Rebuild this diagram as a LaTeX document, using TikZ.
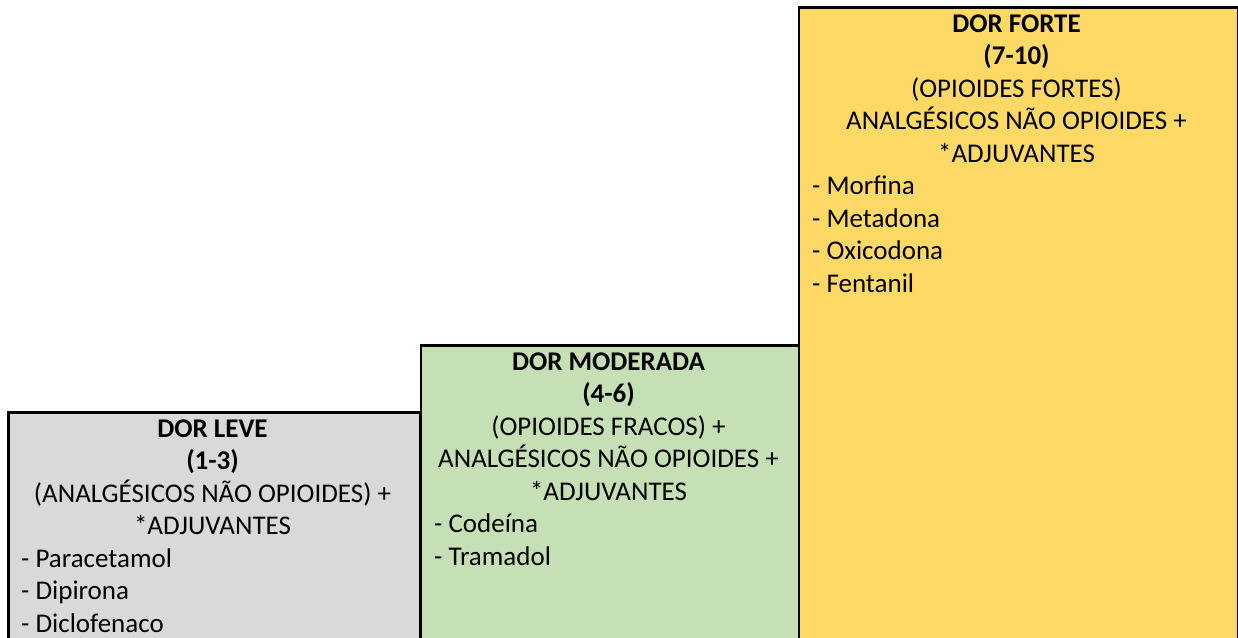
\documentclass[tikz,border=0pt]{standalone}
\usepackage{fontspec}
\setmainfont{Carlito}
\definecolor{levecol}{HTML}{D9D9D9}
\definecolor{modcol}{HTML}{C5E0B4}
\definecolor{fortecol}{HTML}{FFD966}
\begin{document}
\begin{tikzpicture}[x=1pt,y=-1pt,
  box/.style={draw=black, line width=2.5pt, rectangle, inner sep=0pt, anchor=north west},
  hd/.style={font=\fontsize{27}{32.5}\selectfont\bfseries, anchor=base, inner sep=0pt},
  tx/.style={font=\fontsize{27}{32.5}\selectfont, anchor=base, inner sep=0pt},
  li/.style={font=\fontsize{27}{32.5}\selectfont, anchor=base west, inner sep=0pt}]
\useasboundingbox (0,0) rectangle (1238,637);
\begin{scope}
\clip (0,0) rectangle (1238,637);
\node[box, fill=levecol, minimum width=411.5pt, minimum height=260pt] (leve) at (7,411) {};
\node[box, fill=modcol, minimum width=378.5pt, minimum height=330pt] (mod) at (419.5,344) {};
\node[box, fill=fortecol, minimum width=439pt, minimum height=660pt] (forte) at (797.5,6) {};
\end{scope}
% DOR LEVE
\node[hd] (l1) at (212.5,437.3) {DOR LEVE};
\node[hd] (l2) at (212.5,469.8) {(1-3)};
\node[tx] (l3) at (212.5,502.3) {(ANALGÉSICOS NÃO OPIOIDES) +};
\node[tx] (l4) at (212.5,534.8) {*ADJUVANTES};
\node[li] (l5) at (21,567.3) {- Paracetamol};
\node[li] (l6) at (21,599.8) {- Dipirona};
\node[li] (l7) at (21,632.3) {- Diclofenaco};
% DOR MODERADA
\node[hd] (m1) at (608.5,370.3) {DOR MODERADA};
\node[hd] (m2) at (608.5,402.8) {(4-6)};
\node[tx] (m3) at (608.5,435.3) {(OPIOIDES FRACOS) +};
\node[tx] (m4) at (608.5,467.8) {ANALGÉSICOS NÃO OPIOIDES +};
\node[tx] (m5) at (608.5,500.3) {*ADJUVANTES};
\node[li] (m6) at (434,532.8) {- Codeína};
\node[li] (m7) at (434,565.3) {- Tramadol};
% DOR FORTE
\node[hd] (f1) at (1016.5,32.3) {DOR FORTE};
\node[hd] (f2) at (1016.5,64.8) {(7-10)};
\node[tx] (f3) at (1016.5,97.3) {(OPIOIDES FORTES)};
\node[tx] (f4) at (1016.5,129.8) {ANALGÉSICOS NÃO OPIOIDES +};
\node[tx] (f5) at (1016.5,162.3) {*ADJUVANTES};
\node[li] (f6) at (812,194.8) {- Morfina};
\node[li] (f7) at (812,227.3) {- Metadona};
\node[li] (f8) at (812,259.8) {- Oxicodona};
\node[li] (f9) at (812,292.3) {- Fentanil};
\end{tikzpicture}
\end{document}
